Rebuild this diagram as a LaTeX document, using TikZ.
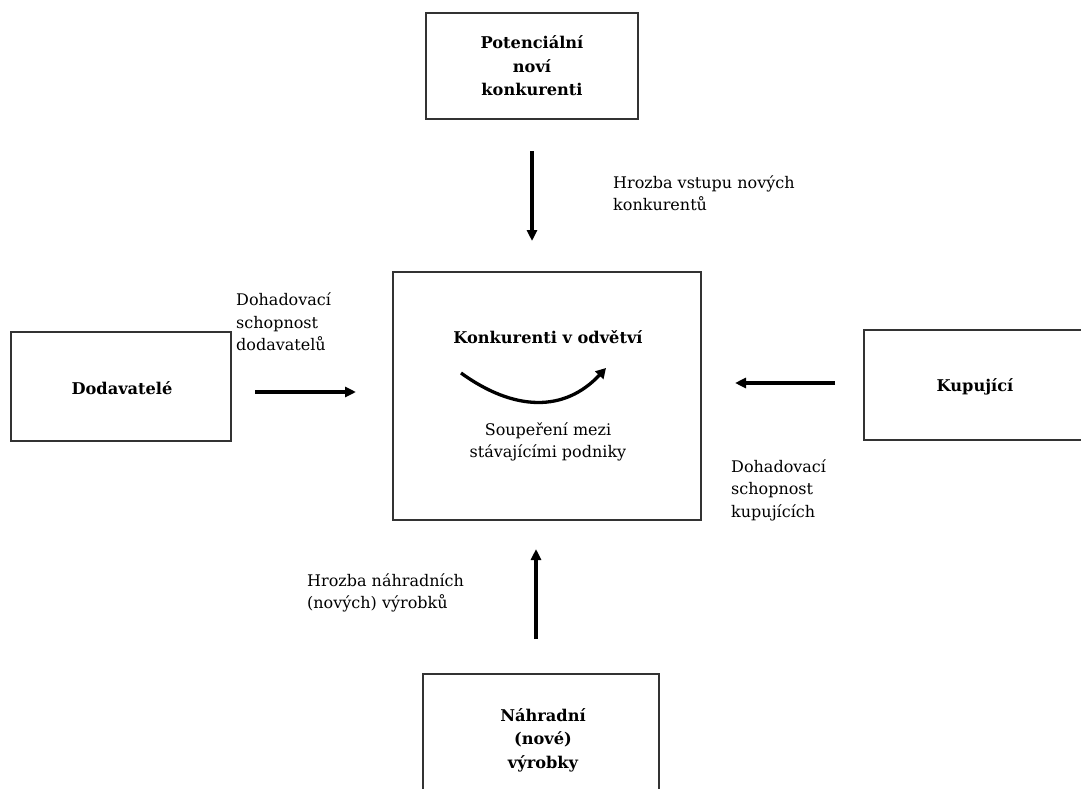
\documentclass[tikz,border=0pt]{standalone}
\usepackage{fontspec}
\setmainfont{DejaVu Serif}
\usetikzlibrary{arrows.meta}
\begin{document}
\begin{tikzpicture}[x=1pt,y=-1pt,
  box/.style={draw=black!80,line width=1.3pt,inner sep=0pt},
  lbl/.style={font=\fontsize{16}{22.5}\selectfont,inner sep=0pt,align=left},
  blbl/.style={font=\bfseries\fontsize{16.2}{23.5}\selectfont,inner sep=0pt,align=center},
  force/.style={line width=3.3pt,-{Triangle[length=11pt,width=10pt]}}]
\useasboundingbox (0,0) rectangle (1081,789);
\clip (0,0) rectangle (1081,789);
% boxes
\node[box,minimum width=212pt,minimum height=106pt] (pot) at (532,66) {};
\node[box,minimum width=308pt,minimum height=248pt] (ind) at (547,396) {};
\node[box,minimum width=220pt,minimum height=109pt] (sup) at (121,386.5) {};
\node[box,minimum width=240pt,minimum height=110pt] (buy) at (984,385) {};
\node[box,minimum width=236pt,minimum height=140pt] (sub) at (541,744) {};
% box labels
\node[blbl] (potT) at (532,66) {Potenciální\\noví\\konkurenti};
\node[blbl] (indT) at (548,337) {Konkurenti v odvětví};
\node[lbl,align=center] (indS) at (548,442) {Soupeření mezi\\stávajícími podniky};
\node[blbl] (supT) at (122,388) {Dodavatelé};
\node[blbl] (buyT) at (975,387) {Kupující};
\node[blbl] (subT) at (543,740) {Náhradní\\(nové)\\výrobky};
% force labels
\node[lbl,anchor=west] (l1) at (613,193) {Hrozba vstupu nových\\konkurentů};
\node[lbl,anchor=west] (l2) at (236,322) {Dohadovací\\schopnost\\dodavatelů};
\node[lbl,anchor=west] (l3) at (731,490) {Dohadovací\\schopnost\\kupujících};
\node[lbl,anchor=west] (l4) at (307,593) {Hrozba náhradních\\(nových) výrobků};
% arrow end points
\coordinate (a1s) at (532,151);
\coordinate (a1e) at (532,241);
\coordinate (a2s) at (255,392);
\coordinate (a2e) at (356,392);
\coordinate (a3s) at (835,383);
\coordinate (a3e) at (735,383);
\coordinate (a4s) at (536,639);
\coordinate (a4e) at (536,549);
\coordinate (c1) at (461,373);
\coordinate (c2) at (606,368);
\draw[force] (a1s) -- (a1e);
\draw[force] (a2s) -- (a2e);
\draw[force] (a3s) -- (a3e);
\draw[force] (a4s) -- (a4e);
\draw[line width=3.3pt,-{Triangle[length=10pt,width=11pt]}] (c1) .. controls (515,412) and (565,412) .. (c2);
\end{tikzpicture}
\end{document}
